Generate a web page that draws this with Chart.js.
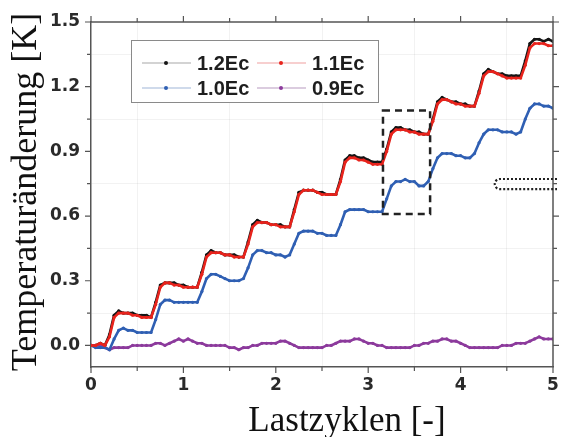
<!DOCTYPE html>
<html>
<head>
<meta charset="utf-8">
<script src="https://cdn.jsdelivr.net/npm/chart.js@4.4.1/dist/chart.umd.min.js"></script>
<style>
  html, body { margin: 0; padding: 0; background: #fff; }
  canvas { display: block; }
</style>
</head>
<body>
<canvas id="tempChart" width="563" height="437"></canvas>
<script>
// load cycles, one sample every 0.05
const cycles = [
  0.00, 0.05, 0.10, 0.15, 0.20, 0.25, 0.30, 0.35, 0.40, 0.45,
  0.50, 0.55, 0.60, 0.65, 0.70, 0.75, 0.80, 0.85, 0.90, 0.95,
  1.00, 1.05, 1.10, 1.15, 1.20, 1.25, 1.30, 1.35, 1.40, 1.45,
  1.50, 1.55, 1.60, 1.65, 1.70, 1.75, 1.80, 1.85, 1.90, 1.95,
  2.00, 2.05, 2.10, 2.15, 2.20, 2.25, 2.30, 2.35, 2.40, 2.45,
  2.50, 2.55, 2.60, 2.65, 2.70, 2.75, 2.80, 2.85, 2.90, 2.95,
  3.00, 3.05, 3.10, 3.15, 3.20, 3.25, 3.30, 3.35, 3.40, 3.45,
  3.50, 3.55, 3.60, 3.65, 3.70, 3.75, 3.80, 3.85, 3.90, 3.95,
  4.00, 4.05, 4.10, 4.15, 4.20, 4.25, 4.30, 4.35, 4.40, 4.45,
  4.50, 4.55, 4.60, 4.65, 4.70, 4.75, 4.80, 4.85, 4.90, 4.95,
  5.00
];

const ec12 = [
  0.00, 0.00, 0.01, 0.00, 0.05, 0.14, 0.16, 0.15, 0.15, 0.15,
  0.14, 0.14, 0.14, 0.13, 0.20, 0.28, 0.29, 0.29, 0.29, 0.28,
  0.28, 0.27, 0.27, 0.27, 0.34, 0.42, 0.44, 0.43, 0.43, 0.42,
  0.42, 0.42, 0.41, 0.41, 0.48, 0.56, 0.58, 0.57, 0.57, 0.56,
  0.56, 0.56, 0.55, 0.55, 0.63, 0.71, 0.72, 0.72, 0.72, 0.71,
  0.71, 0.70, 0.70, 0.70, 0.77, 0.86, 0.88, 0.88, 0.87, 0.87,
  0.86, 0.85, 0.85, 0.85, 0.91, 0.99, 1.01, 1.01, 1.00, 1.00,
  0.99, 0.99, 0.98, 0.98, 1.05, 1.13, 1.15, 1.14, 1.13, 1.13,
  1.12, 1.12, 1.11, 1.11, 1.18, 1.26, 1.28, 1.27, 1.26, 1.26,
  1.25, 1.25, 1.25, 1.25, 1.32, 1.40, 1.42, 1.42, 1.41, 1.42,
  1.41
];

const ec11 = [
  0.00, 0.00, 0.01, 0.00, 0.04, 0.13, 0.15, 0.15, 0.15, 0.14,
  0.14, 0.13, 0.13, 0.13, 0.19, 0.27, 0.29, 0.29, 0.28, 0.28,
  0.27, 0.27, 0.27, 0.27, 0.33, 0.41, 0.43, 0.43, 0.43, 0.42,
  0.42, 0.41, 0.41, 0.41, 0.47, 0.55, 0.57, 0.57, 0.57, 0.56,
  0.56, 0.55, 0.55, 0.55, 0.62, 0.70, 0.72, 0.72, 0.72, 0.71,
  0.70, 0.70, 0.70, 0.70, 0.76, 0.85, 0.87, 0.87, 0.86, 0.86,
  0.85, 0.84, 0.84, 0.84, 0.90, 0.98, 1.00, 1.00, 1.00, 0.99,
  0.99, 0.98, 0.98, 0.98, 1.04, 1.12, 1.14, 1.14, 1.13, 1.12,
  1.12, 1.11, 1.11, 1.11, 1.17, 1.25, 1.27, 1.27, 1.26, 1.25,
  1.24, 1.24, 1.24, 1.24, 1.30, 1.38, 1.40, 1.40, 1.40, 1.39,
  1.39
];

const ec10 = [
  0.00, -0.01, -0.01, -0.01, -0.02, 0.03, 0.07, 0.08, 0.07, 0.07,
  0.06, 0.06, 0.06, 0.06, 0.12, 0.19, 0.21, 0.21, 0.20, 0.20,
  0.20, 0.20, 0.20, 0.20, 0.25, 0.31, 0.33, 0.33, 0.32, 0.31,
  0.30, 0.30, 0.30, 0.31, 0.36, 0.42, 0.44, 0.44, 0.43, 0.43,
  0.42, 0.42, 0.41, 0.42, 0.47, 0.52, 0.53, 0.53, 0.53, 0.52,
  0.52, 0.51, 0.51, 0.51, 0.56, 0.62, 0.63, 0.63, 0.63, 0.63,
  0.62, 0.62, 0.62, 0.62, 0.68, 0.74, 0.76, 0.76, 0.77, 0.76,
  0.76, 0.74, 0.74, 0.76, 0.82, 0.87, 0.89, 0.89, 0.89, 0.88,
  0.88, 0.87, 0.87, 0.89, 0.94, 0.98, 1.00, 1.00, 1.00, 0.99,
  0.99, 0.99, 0.98, 0.99, 1.05, 1.10, 1.12, 1.12, 1.11, 1.11,
  1.10
];

const ec09 = [
  0.00, 0.00, 0.00, -0.01, -0.02, -0.01, -0.01, -0.01, -0.01, 0.00,
  0.00, 0.00, 0.00, 0.00, 0.01, 0.01, 0.00, 0.01, 0.02, 0.03,
  0.02, 0.03, 0.02, 0.01, 0.01, 0.00, 0.00, 0.00, 0.00, 0.00,
  -0.01, -0.01, -0.02, -0.01, -0.01, 0.00, 0.00, 0.01, 0.01, 0.01,
  0.01, 0.02, 0.02, 0.01, 0.00, -0.01, -0.01, -0.01, -0.01, -0.01,
  -0.01, 0.00, 0.00, 0.01, 0.02, 0.02, 0.02, 0.03, 0.03, 0.02,
  0.01, 0.01, 0.00, 0.00, -0.01, -0.01, -0.01, -0.01, -0.01, -0.01,
  0.00, 0.00, 0.01, 0.01, 0.02, 0.02, 0.03, 0.03, 0.02, 0.02,
  0.01, 0.00, -0.01, -0.01, -0.01, -0.01, -0.01, -0.01, -0.01, 0.00,
  0.00, 0.00, 0.01, 0.01, 0.01, 0.02, 0.03, 0.04, 0.03, 0.03,
  0.03
];

const seriesLabels = ['1.2Ec', '1.1Ec', '1.0Ec', '0.9Ec'];
const seriesColors = ['#151515', '#e8231c', '#2f5fb3', '#8c3a9c'];
const legendColors = ['#a8a8a8', '#f0a0a0', '#9fb6d8', '#b89ac0'];
const xTickValues = [0, 0.5, 1, 1.5, 2, 2.5, 3, 3.5, 4, 4.5, 5];
const yTickValues = [0, 0.15, 0.3, 0.45, 0.6, 0.75, 0.9, 1.05, 1.2, 1.35, 1.5];

// dashed zoom box and dotted marker, in data units
const zoomBox = { x0: 3.16, x1: 3.67, y0: 0.61, y1: 1.09 };
const pillMark = { x0: 4.37, y0: 0.725, y1: 0.772 };

function toPoints(ys) {
    return cycles.map((c, i) => ({ x: c, y: ys[i] }));
}

function makeSet(idx, ys, order) {
    return {
        label: seriesLabels[idx],
        data: toPoints(ys),
        borderColor: seriesColors[idx],
        backgroundColor: seriesColors[idx],
        borderWidth: 2.6,
        pointRadius: 1.6,
        pointBorderWidth: 0,
        pointBackgroundColor: seriesColors[idx],
        tension: 0,
        order: order
    };
}

const isMajor = (v, step) => Math.abs(v / step - Math.round(v / step)) < 1e-6;

const extras = {
    id: 'extras',
    afterDraw(chart) {
        const ctx = chart.ctx;
        const a = chart.chartArea;
        const x = chart.scales.x;
        const y = chart.scales.y;
        ctx.save();

        // top and right frame
        ctx.strokeStyle = '#555';
        ctx.lineWidth = 1.5;
        ctx.beginPath();
        ctx.moveTo(a.left, a.top);
        ctx.lineTo(a.right, a.top);
        ctx.lineTo(a.right, a.bottom);
        ctx.stroke();

        // outward ticks on all four sides
        ctx.lineWidth = 1.2;
        ctx.beginPath();
        xTickValues.forEach(v => {
            const px = x.getPixelForValue(v);
            const len = isMajor(v, 1) ? 6 : 4;
            ctx.moveTo(px, a.bottom); ctx.lineTo(px, a.bottom + len);
            ctx.moveTo(px, a.top); ctx.lineTo(px, a.top - len);
        });
        yTickValues.forEach(v => {
            const py = y.getPixelForValue(v);
            const len = isMajor(v, 0.3) ? 6 : 4;
            ctx.moveTo(a.left, py); ctx.lineTo(a.left - len, py);
            ctx.moveTo(a.right, py); ctx.lineTo(a.right + len, py);
        });
        ctx.stroke();

        // dashed zoom box
        ctx.strokeStyle = '#222';
        ctx.lineWidth = 2.5;
        ctx.setLineDash([7, 5]);
        const bx0 = x.getPixelForValue(zoomBox.x0), bx1 = x.getPixelForValue(zoomBox.x1);
        const by0 = y.getPixelForValue(zoomBox.y1), by1 = y.getPixelForValue(zoomBox.y0);
        ctx.strokeRect(bx0, by0, bx1 - bx0, by1 - by0);

        // dotted pill at right edge
        ctx.lineWidth = 2.2;
        ctx.setLineDash([2, 2]);
        const px0 = x.getPixelForValue(pillMark.x0);
        const pt = y.getPixelForValue(pillMark.y1), pb = y.getPixelForValue(pillMark.y0);
        const r = (pb - pt) / 2;
        ctx.beginPath();
        ctx.moveTo(a.right + 4, pt);
        ctx.lineTo(px0 + r, pt);
        ctx.arc(px0 + r, pt + r, r, -Math.PI / 2, Math.PI / 2, true);
        ctx.lineTo(a.right + 4, pb);
        ctx.stroke();
        ctx.setLineDash([]);

        // legend
        ctx.strokeStyle = '#8a8a8a';
        ctx.lineWidth = 1;
        ctx.fillStyle = '#fff';
        ctx.fillRect(131, 40, 247, 62);
        ctx.strokeRect(131.5, 40.5, 247, 62);
        const slots = [[142, 63], [257, 63], [142, 88], [257, 88]];
        slots.forEach((s, i) => {
            ctx.strokeStyle = legendColors[i];
            ctx.lineWidth = 1.2;
            ctx.beginPath();
            ctx.moveTo(s[0], s[1]);
            ctx.lineTo(s[0] + 49, s[1]);
            ctx.stroke();
            ctx.fillStyle = seriesColors[i];
            ctx.beginPath();
            ctx.arc(s[0] + 24, s[1], 2, 0, Math.PI * 2);
            ctx.fill();
            ctx.fillStyle = '#1e1e1e';
            ctx.font = 'bold 20px "Liberation Sans", Arial, sans-serif';
            ctx.textAlign = 'left';
            ctx.textBaseline = 'middle';
            ctx.fillText(seriesLabels[i], s[0] + 55, s[1] + 1);
        });

        // axis titles
        ctx.fillStyle = '#111';
        ctx.font = '35px "Liberation Serif", "Times New Roman", serif';
        ctx.textAlign = 'center';
        ctx.textBaseline = 'alphabetic';
        ctx.fillText('Lastzyklen [-]', 347, 431);
        ctx.font = '36px "Liberation Serif", "Times New Roman", serif';
        ctx.translate(36, 192);
        ctx.rotate(-Math.PI / 2);
        ctx.fillText('Temperaturänderung [K]', 0, 0);

        ctx.restore();
    }
};

const tickFont = { family: '"DejaVu Sans", sans-serif', size: 17, weight: 'bold' };

new Chart(document.getElementById('tempChart'), {
    type: 'line',
    data: {
        datasets: [
            makeSet(0, ec12, 3),
            makeSet(1, ec11, 0),
            makeSet(2, ec10, 1),
            makeSet(3, ec09, 2)
        ]
    },
    options: {
        responsive: false,
        animation: false,
        devicePixelRatio: 1,
        layout: { padding: { top: 22, right: 10, left: 0, bottom: 0 } },
        plugins: { legend: { display: false }, tooltip: { enabled: false } },
        scales: {
            x: {
                type: 'linear',
                min: 0,
                max: 5,
                afterBuildTicks: s => { s.ticks = xTickValues.map(v => ({ value: v })); },
                afterFit: s => { s.height = 70; s.paddingRight = 0; },
                ticks: {
                    autoSkip: false,
                    maxRotation: 0,
                    padding: 8,
                    color: '#2a2a2a',
                    font: tickFont,
                    callback: v => isMajor(v, 1) ? String(Math.round(v)) : ''
                },
                grid: {
                    drawTicks: false,
                    color: c => (c.tick && !isMajor(c.tick.value, 1)) ? 'rgba(0,0,0,0.05)' : 'rgba(0,0,0,0)'
                },
                border: { display: true, color: '#555', width: 1.5 }
            },
            y: {
                min: -0.1,
                max: 1.5,
                afterBuildTicks: s => { s.ticks = yTickValues.map(v => ({ value: v })); },
                afterFit: s => { s.width = 91; },
                ticks: {
                    autoSkip: false,
                    padding: 11,
                    color: '#2a2a2a',
                    font: tickFont,
                    callback: v => isMajor(v, 0.3) ? v.toFixed(1) : ''
                },
                grid: {
                    drawTicks: false,
                    color: c => (c.tick && !isMajor(c.tick.value, 0.3)) ? 'rgba(0,0,0,0.05)' : 'rgba(0,0,0,0)'
                },
                border: { display: true, color: '#555', width: 1.5 }
            }
        }
    },
    plugins: [extras]
});
</script>
</body>
</html>
